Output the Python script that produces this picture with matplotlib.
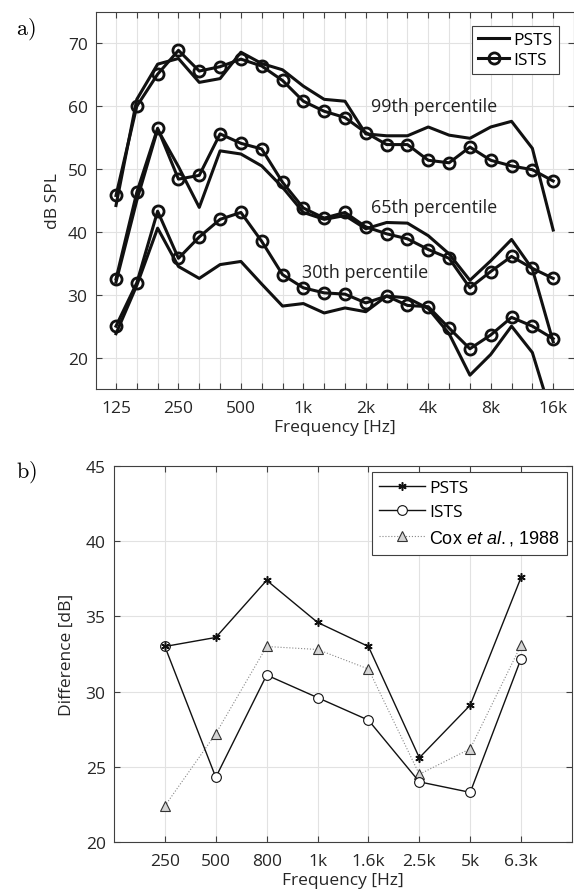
import matplotlib
matplotlib.use("Agg")
import matplotlib.pyplot as plt

plt.rcParams['font.family'] = ['Open Sans', 'DejaVu Sans']
plt.rcParams['mathtext.fontset'] = 'custom'
plt.rcParams['mathtext.rm'] = 'Liberation Sans'
plt.rcParams['mathtext.it'] = 'Liberation Sans:italic'

########################################################################
# data

# panel a: third octave bands
bands_a = ['125', '160', '200', '250', '315', '400', '500', '630', '800', '1k', '1.25k',
           '1.6k', '2k', '2.5k', '3.15k', '4k', '5k', '6.3k', '8k', '10k', '12.5k', '16k']
shown_a = ['125', '250', '500', '1k', '2k', '4k', '8k', '16k']

p99_psts = [44.2, 61.1, 66.7, 67.6, 63.8, 64.4, 68.6, 66.8, 65.8, 63.2, 61.1,
            60.8, 55.6, 55.3, 55.3, 56.7, 55.4, 54.9, 56.7, 57.6, 53.3, 40.3]
p99_ists = [45.8, 60.0, 65.1, 68.9, 65.6, 66.3, 67.5, 66.4, 64.1, 60.8, 59.2,
            58.2, 55.8, 53.9, 53.9, 51.4, 51.0, 53.5, 51.4, 50.5, 49.9, 48.1]
p65_psts = [32.0, 45.0, 56.3, 50.4, 43.9, 52.9, 52.4, 50.5, 47.1, 43.1, 42.0,
            42.6, 40.5, 41.5, 41.4, 39.4, 36.5, 32.3, 35.4, 38.8, 34.1, 22.5]
p65_ists = [32.5, 46.3, 56.5, 48.4, 49.0, 55.6, 54.1, 53.2, 47.9, 43.8, 42.2,
            43.1, 40.8, 39.7, 38.9, 37.2, 35.8, 31.1, 33.7, 36.1, 34.2, 32.6]
p30_psts = [23.8, 31.5, 40.6, 34.5, 32.6, 34.8, 35.3, 31.7, 28.2, 28.6, 27.1,
            27.9, 27.3, 29.8, 29.5, 27.8, 23.8, 17.2, 20.5, 25.0, 20.8, 10.0]
p30_ists = [25.0, 31.9, 43.3, 35.8, 39.2, 42.0, 43.1, 38.5, 33.2, 31.1, 30.3,
            30.1, 28.7, 29.8, 28.3, 28.1, 24.7, 21.4, 23.6, 26.4, 25.0, 23.0]

# panel b: difference per band
bands_b = ['250', '500', '800', '1k', '1.6k', '2.5k', '5k', '6.3k']
diff_psts = [33.0, 33.6, 37.4, 34.6, 33.0, 25.6, 29.1, 37.6]
diff_ists = [33.0, 24.3, 31.1, 29.6, 28.1, 24.0, 23.3, 32.2]
diff_cox = [22.4, 27.2, 33.0, 32.8, 31.5, 24.5, 26.2, 33.1]


def style_axes(ax):
    ax.tick_params(direction='in', length=4, width=0.8, top=True, right=True,
                   color='#404040', labelcolor='#262626', labelsize=12.5)
    ax.tick_params(axis='x', pad=8)
    ax.tick_params(axis='y', pad=6)
    for spine in ax.spines.values():
        spine.set_color('#404040')
        spine.set_linewidth(0.8)
    ax.grid(True, color='#e2e2e2', linewidth=0.8)
    ax.set_axisbelow(True)


fig = plt.figure(figsize=(5.74, 8.95), dpi=100)

########################################################################
# panel a
ax_a = fig.add_axes([96 / 574, 1 - 390 / 895, 478 / 574, 377 / 895])
xa = list(range(len(bands_a)))

line_kw = dict(color='#111111', lw=2.2)
circ_kw = dict(color='#111111', lw=2.2, marker='o', ms=8, mfc='none', mew=2)

for psts, ists in [(p99_psts, p99_ists), (p65_psts, p65_ists), (p30_psts, p30_ists)]:
    h_psts, = ax_a.plot(xa, psts, **line_kw)
    h_ists, = ax_a.plot(xa, ists, **circ_kw)

ax_a.set_xlim(-0.96, 22)
ax_a.set_ylim(15, 75)
ax_a.set_xticks(xa)
ax_a.set_xticklabels([b if b in shown_a else '' for b in bands_a])
ax_a.set_yticks([20, 30, 40, 50, 60, 70])
style_axes(ax_a)
ax_a.set_xlabel('Frequency [Hz]', fontsize=12.5, color='#262626', labelpad=2)
ax_a.set_ylabel('dB SPL', fontsize=12.5, color='#262626', labelpad=5)

ax_a.text(12.26, 60.0, '99th percentile', fontsize=13, color='#222222', va='center')
ax_a.text(12.26, 44.0, '65th percentile', fontsize=13, color='#222222', va='center')
ax_a.text(8.94, 33.6, '30th percentile', fontsize=13, color='#222222', va='center')

leg_a = ax_a.legend([h_psts, h_ists], ['PSTS', 'ISTS'], loc='upper right',
                    bbox_to_anchor=(559 / 574, 1 - 27 / 895), bbox_transform=fig.transFigure,
                    borderaxespad=0, fancybox=False, framealpha=1, edgecolor='#404040',
                    fontsize=12.5, handlelength=1.8, handletextpad=0.25,
                    labelspacing=0.2, borderpad=0.35)
leg_a.get_frame().set_linewidth(0.8)

########################################################################
# panel b
ax_b = fig.add_axes([114 / 574, 1 - 843 / 895, 458 / 574, 376 / 895])
xb = list(range(len(bands_b)))

h_cox, = ax_b.plot(xb, diff_cox, color='#888888', lw=0.8, ls=':', marker='^', ms=6.5,
                   mfc='#d4d4d4', mec='#333333', mew=0.8, zorder=2)
h_ists_b, = ax_b.plot(xb, diff_ists, color='#111111', lw=1.0, marker='o', ms=7,
                      mfc='white', mec='#111111', mew=0.8, zorder=3)
h_psts_b, = ax_b.plot(xb, diff_psts, color='#111111', lw=1.0, marker=(6, 2, 0), ms=6,
                      mfc='#111111', mec='#111111', mew=1.1, zorder=4)

ax_b.set_xlim(-1, 8)
ax_b.set_ylim(20, 45)
ax_b.set_xticks(xb)
ax_b.set_xticklabels(bands_b)
ax_b.set_yticks([20, 25, 30, 35, 40, 45])
style_axes(ax_b)
ax_b.set_xlabel('Frequency [Hz]', fontsize=12.5, color='#262626', labelpad=2)
ax_b.set_ylabel('Difference [dB]', fontsize=12.5, color='#262626', labelpad=8)

leg_b = ax_b.legend([h_psts_b, h_ists_b, h_cox],
                    ['PSTS', 'ISTS', r'Cox $\it{et\ al.}$, 1988'], loc='upper right',
                    bbox_to_anchor=(567 / 574, 1 - 473 / 895), bbox_transform=fig.transFigure,
                    borderaxespad=0, fancybox=False, framealpha=1, edgecolor='#404040',
                    fontsize=12.5, handlelength=2.6, handletextpad=0.25,
                    labelspacing=0.45, borderpad=0.45)
leg_b.get_frame().set_linewidth(0.8)
leg_b.get_texts()[2].set_family('Liberation Sans')
leg_b.get_texts()[2].set_fontsize(13)

########################################################################
# panel letters
fig.text(26 / 574, 1 - 29 / 895, r'$\mathrm{a)}$', math_fontfamily='cm', fontsize=16,
         ha='center', va='center')
fig.text(26 / 574, 1 - 472 / 895, r'$\mathrm{b)}$', math_fontfamily='cm', fontsize=16,
         ha='center', va='center')

fig.savefig('out.png', dpi=100)
